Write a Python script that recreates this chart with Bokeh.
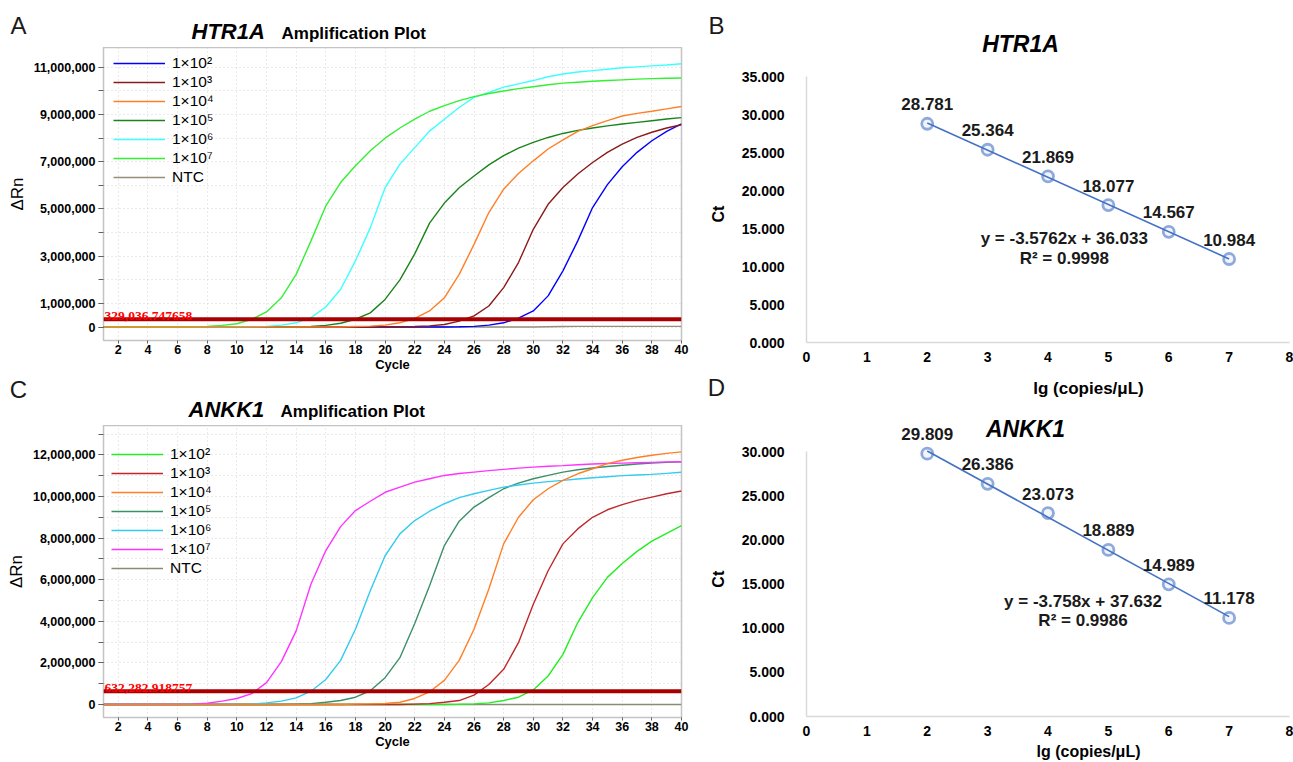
import math
from bokeh.plotting import figure
from bokeh.models import (Range1d, FixedTicker, Span, Label, LabelSet, ColumnDataSource,
                          Legend, LegendItem, NumeralTickFormatter)
from bokeh.layouts import row, column
from bokeh.embed import file_html
from bokeh.resources import INLINE
from bokeh.core.properties import value

# ---------------- data ----------------
cycles = list(range(1, 41))
series_labels = ["1×10²", "1×10³", "1×10⁴", "1×10⁵", "1×10⁶", "1×10⁷", "NTC"]

# HTR1A amplification (ΔRn, millions)
htr1a_1e2 = [0.00, 0.00, 0.00, 0.00, 0.00, 0.00, 0.00, 0.00, 0.00, 0.00,
             0.00, 0.00, 0.00, 0.00, 0.00, 0.00, 0.00, 0.00, 0.00, 0.00,
             0.00, 0.00, 0.00, 0.00, 0.01, 0.03, 0.08, 0.18, 0.38, 0.68,
             1.32, 2.38, 3.65, 5.06, 6.03, 6.79, 7.40, 7.89, 8.29, 8.60]
htr1a_1e3 = [0.00, 0.00, 0.00, 0.00, 0.00, 0.00, 0.00, 0.00, 0.00, 0.00,
             0.00, 0.00, 0.00, 0.00, 0.00, 0.00, 0.00, 0.00, 0.00, 0.00,
             0.00, 0.02, 0.05, 0.11, 0.25, 0.47, 0.89, 1.67, 2.73, 4.14,
             5.20, 5.91, 6.48, 6.97, 7.40, 7.75, 8.03, 8.25, 8.43, 8.57]
htr1a_1e4 = [0.00, 0.00, 0.00, 0.00, 0.00, 0.00, 0.00, 0.00, 0.00, 0.00,
             0.00, 0.00, 0.00, 0.00, 0.00, 0.00, 0.00, 0.02, 0.04, 0.08,
             0.18, 0.37, 0.68, 1.24, 2.23, 3.50, 4.85, 5.84, 6.50, 7.04,
             7.54, 7.93, 8.29, 8.53, 8.74, 8.94, 9.05, 9.14, 9.24, 9.34]
htr1a_1e5 = [0.00, 0.00, 0.00, 0.00, 0.00, 0.00, 0.00, 0.00, 0.00, 0.00,
             0.00, 0.00, 0.00, 0.00, 0.03, 0.07, 0.16, 0.33, 0.60, 1.17,
             2.00, 3.10, 4.40, 5.25, 5.90, 6.40, 6.87, 7.26, 7.58, 7.82,
             8.03, 8.20, 8.33, 8.43, 8.52, 8.60, 8.67, 8.74, 8.81, 8.87]
htr1a_1e6 = [0.00, 0.00, 0.00, 0.00, 0.00, 0.00, 0.00, 0.00, 0.00, 0.01,
             0.01, 0.03, 0.08, 0.18, 0.40, 0.85, 1.60, 2.80, 4.20, 5.90,
             6.90, 7.60, 8.30, 8.80, 9.30, 9.73, 9.94, 10.16, 10.30, 10.44,
             10.60, 10.72, 10.80, 10.86, 10.92, 10.98, 11.02, 11.06, 11.10, 11.15]
htr1a_1e7 = [0.00, 0.00, 0.00, 0.00, 0.00, 0.00, 0.01, 0.03, 0.07, 0.14,
             0.33, 0.64, 1.24, 2.23, 3.65, 5.13, 6.12, 6.83, 7.47, 8.00,
             8.43, 8.81, 9.14, 9.38, 9.59, 9.76, 9.89, 10.00, 10.10, 10.18,
             10.26, 10.33, 10.37, 10.41, 10.44, 10.47, 10.50, 10.52, 10.54, 10.55]
htr1a_ntc = [0.00, 0.00, 0.00, 0.00, 0.00, 0.00, 0.00, 0.00, 0.00, 0.00,
             0.00, 0.00, 0.00, 0.00, 0.00, 0.00, 0.00, 0.00, 0.00, 0.00,
             0.00, 0.00, 0.00, 0.00, 0.00, 0.00, 0.00, 0.00, 0.00, 0.00,
             0.01, 0.02, 0.03, 0.03, 0.03, 0.03, 0.03, 0.03, 0.03, 0.03]
htr1a_threshold = 329036.747658

# ANKK1 amplification (ΔRn, millions)
ankk1_1e2 = [0.00, 0.00, 0.00, 0.00, 0.00, 0.00, 0.00, 0.00, 0.00, 0.00,
             0.00, 0.00, 0.00, 0.00, 0.00, 0.00, 0.00, 0.00, 0.00, 0.00,
             0.00, 0.00, 0.00, 0.00, 0.01, 0.03, 0.08, 0.19, 0.35, 0.70,
             1.37, 2.41, 3.94, 5.14, 6.11, 6.78, 7.36, 7.85, 8.23, 8.60]
ankk1_1e3 = [0.00, 0.00, 0.00, 0.00, 0.00, 0.00, 0.00, 0.00, 0.00, 0.00,
             0.00, 0.00, 0.00, 0.00, 0.00, 0.00, 0.00, 0.00, 0.00, 0.00,
             0.00, 0.02, 0.04, 0.11, 0.19, 0.45, 0.96, 1.69, 2.97, 4.82,
             6.43, 7.72, 8.44, 9.00, 9.36, 9.61, 9.81, 9.97, 10.13, 10.26]
ankk1_1e4 = [0.00, 0.00, 0.00, 0.00, 0.00, 0.00, 0.00, 0.00, 0.00, 0.00,
             0.00, 0.00, 0.00, 0.00, 0.00, 0.00, 0.00, 0.02, 0.03, 0.05,
             0.11, 0.29, 0.61, 1.16, 2.12, 3.62, 5.55, 7.72, 9.00, 9.84,
             10.37, 10.77, 11.09, 11.33, 11.58, 11.74, 11.87, 11.98, 12.07, 12.14]
ankk1_1e5 = [0.00, 0.00, 0.00, 0.00, 0.00, 0.00, 0.00, 0.00, 0.00, 0.00,
             0.00, 0.00, 0.00, 0.02, 0.04, 0.11, 0.19, 0.35, 0.66, 1.29,
             2.25, 3.89, 5.71, 7.64, 8.81, 9.49, 9.94, 10.37, 10.64, 10.85,
             11.01, 11.17, 11.28, 11.37, 11.44, 11.50, 11.56, 11.61, 11.64, 11.66]
ankk1_1e6 = [0.00, 0.00, 0.00, 0.00, 0.00, 0.00, 0.00, 0.00, 0.00, 0.00,
             0.02, 0.08, 0.16, 0.32, 0.64, 1.20, 2.12, 3.62, 5.47, 7.15,
             8.20, 8.84, 9.29, 9.65, 9.94, 10.13, 10.29, 10.45, 10.55, 10.64,
             10.71, 10.77, 10.84, 10.90, 10.95, 11.00, 11.03, 11.06, 11.11, 11.16]
ankk1_1e7 = [0.00, 0.00, 0.00, 0.00, 0.00, 0.00, 0.01, 0.06, 0.16, 0.29,
             0.52, 1.05, 2.06, 3.54, 5.79, 7.40, 8.55, 9.32, 9.77, 10.20,
             10.45, 10.69, 10.85, 11.01, 11.10, 11.17, 11.24, 11.30, 11.36, 11.41,
             11.45, 11.48, 11.52, 11.56, 11.58, 11.60, 11.62, 11.64, 11.66, 11.67]
ankk1_ntc = [0.00, 0.00, 0.00, 0.00, 0.00, 0.00, 0.00, 0.00, 0.00, 0.00,
             0.00, 0.00, 0.00, 0.00, 0.00, 0.00, 0.00, 0.00, 0.00, 0.00,
             0.00, 0.00, 0.00, 0.00, 0.00, 0.00, 0.00, 0.00, 0.00, 0.00,
             0.00, 0.00, 0.00, 0.00, 0.00, 0.00, 0.00, 0.00, 0.00, 0.00]
ankk1_threshold = 632282.918757

# standard curves
lg_copies = [2, 3, 4, 5, 6, 7]
ct_htr1a = [28.781, 25.364, 21.869, 18.077, 14.567, 10.984]
ct_ankk1 = [29.809, 26.386, 23.073, 18.889, 14.989, 11.178]
fit_htr1a = (-3.5762, 36.033, 0.9998)   # slope, intercept, R²
fit_ankk1 = (-3.758, 37.632, 0.9986)

# ticks
cycle_ticks = [2, 4, 6, 8, 10, 12, 14, 16, 18, 20, 22, 24, 26, 28, 30, 32, 34, 36, 38, 40]
htr1a_y_labeled = [0, 1e6, 3e6, 5e6, 7e6, 9e6, 11e6]
htr1a_y_grid = [0, 1e6, 2e6, 3e6, 4e6, 5e6, 6e6, 7e6, 8e6, 9e6, 10e6, 11e6]
ankk1_y_labeled = [0, 2e6, 4e6, 6e6, 8e6, 10e6, 12e6]
ankk1_y_grid = [0, 1e6, 2e6, 3e6, 4e6, 5e6, 6e6, 7e6, 8e6, 9e6, 10e6, 11e6, 12e6, 13e6]
std_x_ticks = [0, 1, 2, 3, 4, 5, 6, 7, 8]
htr1a_ct_ticks = [0, 5, 10, 15, 20, 25, 30, 35]
ankk1_ct_ticks = [0, 5, 10, 15, 20, 25, 30]

htr1a_colors = ["#0000ff", "#8b1a1a", "#ff7f27", "#1a841a", "#3cffff", "#33f033", "#948f78"]
ankk1_colors = ["#22ee22", "#c0282a", "#ff7f27", "#3c9068", "#33cbee", "#ff33ff", "#8c8a74"]

SANS = "Liberation Sans"
SERIF = "Liberation Serif"


def txt(x, y, text, size, style="normal", align="left", baseline="alphabetic",
        color="#000000", font=SANS, units="data", **kw):
    return Label(x=x, y=y, x_units=units, y_units=units, text=text, text_font=font,
                 text_font_style=style, text_font_size=size, text_color=color,
                 text_align=align, text_baseline=baseline, **kw)


def strip(width, height, labels):
    """Text-only canvas; its frame fills it, data units = pixels from the bottom-left."""
    s = figure(width=width, height=height, x_range=Range1d(0, width), y_range=Range1d(0, height),
               output_backend="svg", toolbar_location=None, title=None, min_border=0,
               x_axis_type=None, y_axis_type=None)
    s.outline_line_color = None
    for lab in labels:
        s.add_layout(lab)
    return s


def amp_plot(width, height, yr, borders, series, colors, threshold, y_labeled, y_grid, legend_pos):
    left, right, top, bottom = borders
    p = figure(width=width, height=height, x_range=Range1d(1, 40), y_range=Range1d(*yr),
               output_backend="svg", toolbar_location=None, title=None,
               min_border_left=left, min_border_right=right,
               min_border_top=top, min_border_bottom=bottom)
    p.outline_line_color = "#c4c4c4"
    p.outline_line_width = 1.5

    p.xgrid.ticker = FixedTicker(ticks=cycle_ticks)
    p.ygrid.ticker = FixedTicker(ticks=y_grid)
    p.grid.grid_line_color = "#d4d4d4"
    p.grid.grid_line_dash = "1 3"
    p.grid.grid_line_width = 1

    p.xaxis.ticker = FixedTicker(ticks=cycle_ticks)
    p.yaxis.ticker = FixedTicker(ticks=y_labeled, minor_ticks=y_grid)
    p.yaxis.formatter = NumeralTickFormatter(format="0,0")
    p.axis.axis_line_color = None
    p.axis.major_tick_line_color = "#606060"
    p.axis.minor_tick_line_color = "#606060"
    p.axis.major_tick_in = 0
    p.axis.minor_tick_in = 0
    p.yaxis.major_tick_out = 5
    p.yaxis.minor_tick_out = 5
    p.xaxis.major_tick_out = 3
    p.xaxis.minor_tick_out = 0
    p.yaxis.major_label_standoff = 3
    p.xaxis.major_label_standoff = 1
    p.axis.major_label_text_font = SANS
    p.axis.major_label_text_font_style = "bold"
    p.axis.major_label_text_font_size = "12.5px"
    p.axis.major_label_text_color = "#000000"
    p.axis.axis_label_text_color = "#000000"
    p.xaxis.axis_label = "Cycle"
    p.xaxis.axis_label_text_font = SANS
    p.xaxis.axis_label_text_font_style = "bold"
    p.xaxis.axis_label_text_font_size = "13px"
    p.xaxis.axis_label_standoff = 0
    p.yaxis.axis_label = "ΔRn"
    p.yaxis.axis_label_text_font = SANS
    p.yaxis.axis_label_text_font_style = "normal"
    p.yaxis.axis_label_text_font_size = "17px"
    p.yaxis.axis_label_standoff = 4

    # orange drawn last so it sits on top of the shared baseline, as in the original
    order = [6, 0, 1, 3, 4, 5, 2]
    rends = {}
    for i in order:
        ys = [v * 1e6 for v in series[i]]
        rends[i] = p.line(cycles, ys, line_color=colors[i], line_width=1.4)

    p.add_layout(Span(location=threshold, dimension="width", line_color="#a80000", line_width=4))
    p.add_layout(txt(1, threshold, f"{threshold:,.6f}", "13.5px", style="bold", color="#ff0000",
                     font=SERIF, x_offset=1, y_offset=3))

    items = [LegendItem(label=series_labels[i], renderers=[rends[i]]) for i in range(7)]
    leg = Legend(items=items, location=legend_pos, border_line_color=None,
                 background_fill_alpha=0, label_text_font=SANS, label_text_font_size="15.5px",
                 label_text_color="#000000", glyph_width=52, glyph_height=18, label_height=18,
                 spacing=1, padding=4, margin=0, label_standoff=7)
    p.add_layout(leg)
    return p


def std_plot(width, height, yr, borders, cts, fit, ct_ticks, bounds):
    left, right, top, bottom = borders
    p = figure(width=width, height=height, x_range=Range1d(0, 8), y_range=Range1d(*yr),
               output_backend="svg", toolbar_location=None, title=None,
               min_border_left=left, min_border_right=right,
               min_border_top=top, min_border_bottom=bottom)
    p.outline_line_color = None
    p.grid.visible = False
    p.xaxis.ticker = FixedTicker(ticks=std_x_ticks)
    p.yaxis.ticker = FixedTicker(ticks=ct_ticks)
    p.yaxis.bounds = bounds
    p.yaxis.formatter = NumeralTickFormatter(format="0.000")
    p.axis.axis_line_color = "#d9d9d9"
    p.axis.axis_line_width = 1.5
    p.axis.major_tick_line_color = None
    p.axis.minor_tick_line_color = None
    p.axis.major_label_text_font = SANS
    p.axis.major_label_text_font_style = "bold"
    p.axis.major_label_text_font_size = "14px"
    p.axis.major_label_text_color = "#000000"
    p.xaxis.major_label_standoff = 3
    p.yaxis.major_label_standoff = 16

    slope, intercept, r2 = fit
    src = ColumnDataSource(dict(x=lg_copies, y=cts, t=[f"{c:.3f}" for c in cts]))
    p.scatter("x", "y", source=src, size=11, marker="circle", line_color="#8eaadc",
              line_width=2.8, fill_color="#f2f5fb")
    xs = [lg_copies[0], lg_copies[-1]]
    p.line(xs, [slope * x + intercept for x in xs], line_color="#4472c4", line_width=1.6)
    p.add_layout(LabelSet(x="x", y="y", text="t", source=src, y_offset=19.5,
                          text_font=value(SANS), text_font_style="bold", text_font_size="17px",
                          text_color="#1a1a1a", text_align="center", text_baseline="middle"))
    return p, slope, intercept, r2


# ---------------- left column (amplification plots) ----------------
hA = strip(708, 47, [
    txt(18, 22, "A", "24px", align="center", baseline="middle", color="#1a1a1a"),
    txt(191, 3.3, "HTR1A", "22px", style="bold italic", baseline="bottom"),
    txt(281, 4.4, "Amplification Plot", "17px", style="bold", baseline="bottom"),
])
pA = amp_plot(708, 327, (-0.57e6, 11.84e6), (103, 27, 0, 34),
              [htr1a_1e2, htr1a_1e3, htr1a_1e4, htr1a_1e5, htr1a_1e6, htr1a_1e7, htr1a_ntc],
              htr1a_colors, htr1a_threshold, htr1a_y_labeled, htr1a_y_grid, (10, 154))
hC = strip(708, 51, [
    txt(18, 36, "C", "24px", align="center", baseline="middle", color="#1a1a1a"),
    txt(188, 3.3, "ANKK1", "22px", style="bold italic", baseline="bottom"),
    txt(280, 4.4, "Amplification Plot", "17px", style="bold", baseline="bottom"),
])
pC = amp_plot(708, 337, (-0.625e6, 13.41e6), (103, 27, 0, 45),
              [ankk1_1e2, ankk1_1e3, ankk1_1e4, ankk1_1e5, ankk1_1e6, ankk1_1e7, ankk1_ntc],
              ankk1_colors, ankk1_threshold, ankk1_y_labeled, ankk1_y_grid, (8, 140))

# ---------------- right column (standard curves) ----------------
hB = strip(585, 60, [
    txt(8, 35, "B", "24px", align="center", baseline="middle", color="#1a1a1a"),
    txt(312, 3.1, "HTR1A", "23px", style="bold italic", align="center", baseline="bottom"),
])
sB = strip(30, 312, [
    txt(10, 142, "Ct", "16px", style="bold", align="center", baseline="middle", angle=math.pi / 2),
])
pB, sl, ic, r2 = std_plot(555, 312, (0, 282 / 7.6), (63, 4, 0, 30), ct_htr1a, fit_htr1a,
                          htr1a_ct_ticks, (0, 35))
pB.add_layout(txt(4.27, 13.68, f"y = {sl}x + {ic}", "17px", style="bold", align="center",
                  baseline="middle", color="#1a1a1a"))
pB.add_layout(txt(4.27, 11.1, f"R² = {r2}", "17px", style="bold", align="center",
                  baseline="middle", color="#1a1a1a"))

hD = strip(585, 33, [
    txt(8, 18.5, "D", "24px", align="center", baseline="middle", color="#1a1a1a"),
    txt(380, 17, "lg (copies/μL)", "17px", style="bold", align="center", baseline="middle"),
])
sD = strip(30, 333, [
    txt(10, 147, "Ct", "16px", style="bold", align="center", baseline="middle", angle=math.pi / 2),
])
pD, sl, ic, r2 = std_plot(555, 333, (0, 311 / 8.817), (63, 4, 0, 22), ct_ankk1, fit_ankk1,
                          ankk1_ct_ticks, (0, 30))
pD.add_layout(txt(4.58, 13.0, f"y = {sl}x + {ic}", "17px", style="bold", align="center",
                  baseline="middle", color="#1a1a1a"))
pD.add_layout(txt(4.58, 10.86, f"R² = {r2}", "17px", style="bold", align="center",
                  baseline="middle", color="#1a1a1a"))
pD.add_layout(txt(219, 288, "ANKK1", "23px", style="bold italic", align="center", units="screen"))
hE = strip(585, 24, [
    txt(380, 11, "lg (copies/μL)", "16px", style="bold", align="center", baseline="middle"),
])

layout = row(column(hA, row(pA), hC, row(pC)),
             column(hB, row(sB, pB), hD, row(sD, pD), hE))

open("out.html", "w").write(file_html(layout, INLINE))
